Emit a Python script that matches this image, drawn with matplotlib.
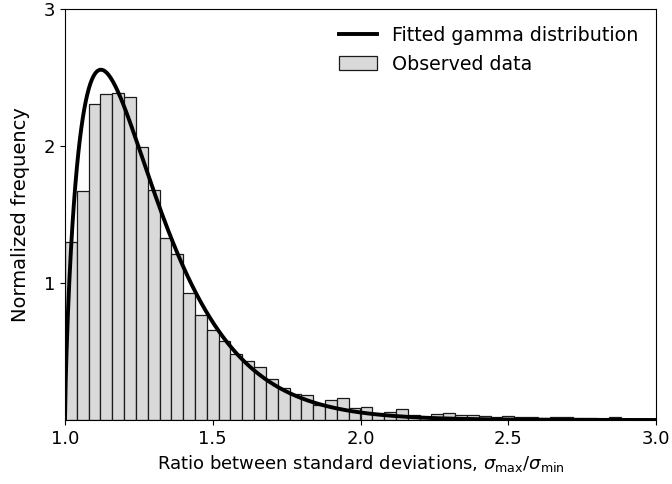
import math
import numpy as np
import matplotlib
matplotlib.use("Agg")
import matplotlib.pyplot as plt

# histogram: 50 bins of width 0.04 between 1.0 and 3.0 (density)
bin_edges = np.linspace(1.0, 3.0, 51)
heights = [1.30, 1.67, 2.31, 2.38, 2.39, 2.36, 1.99, 1.68, 1.33, 1.21,
           0.93, 0.77, 0.66, 0.575, 0.48, 0.43, 0.386, 0.296, 0.23, 0.19,
           0.18, 0.11, 0.146, 0.158, 0.09, 0.097, 0.05, 0.06, 0.078, 0.04,
           0.024, 0.043, 0.054, 0.036, 0.034, 0.027, 0.02, 0.031, 0.022, 0.02,
           0.017, 0.022, 0.022, 0.017, 0.015, 0.01, 0.022, 0.01, 0.01, 0.01]

# fitted gamma distribution parameters (shape, loc, scale)
g_shape = 1.75
g_loc = 1.0
g_scale = 0.162


def gamma_pdf(x, a, loc, scale):
    t = np.clip((x - loc) / scale, 0, None)
    return t ** (a - 1) * np.exp(-t) / (math.gamma(a) * scale)


fig, ax = plt.subplots(figsize=(6.72, 4.84), dpi=100)

bars = ax.bar(bin_edges[:-1], heights, width=np.diff(bin_edges), align="edge",
              facecolor="#d9d9d9", edgecolor="#1a1a1a", linewidth=0.9)

xs = np.linspace(1.0, 3.0, 800)
line, = ax.plot(xs, gamma_pdf(xs, g_shape, g_loc, g_scale), color="black",
                lw=2.8)

ax.set_xlim(1.0, 3.0)
ax.set_ylim(0, 3)
ax.set_xticks([1.0, 1.5, 2.0, 2.5, 3.0])
ax.set_yticks([1, 2, 3])
ax.tick_params(labelsize=13)
ax.set_xlabel(r"Ratio between standard deviations, $\sigma_{\mathrm{max}}/\sigma_{\mathrm{min}}$",
              fontsize=13)
ax.set_ylabel("Normalized frequency", fontsize=14, labelpad=10)

ax.legend([line, bars], ["Fitted gamma distribution", "Observed data"],
          loc="upper right", frameon=False, fontsize=13.7)

fig.subplots_adjust(left=65 / 672, right=656 / 672, top=1 - 9 / 484,
                    bottom=1 - 420 / 484)
fig.savefig("out.png", dpi=100)
